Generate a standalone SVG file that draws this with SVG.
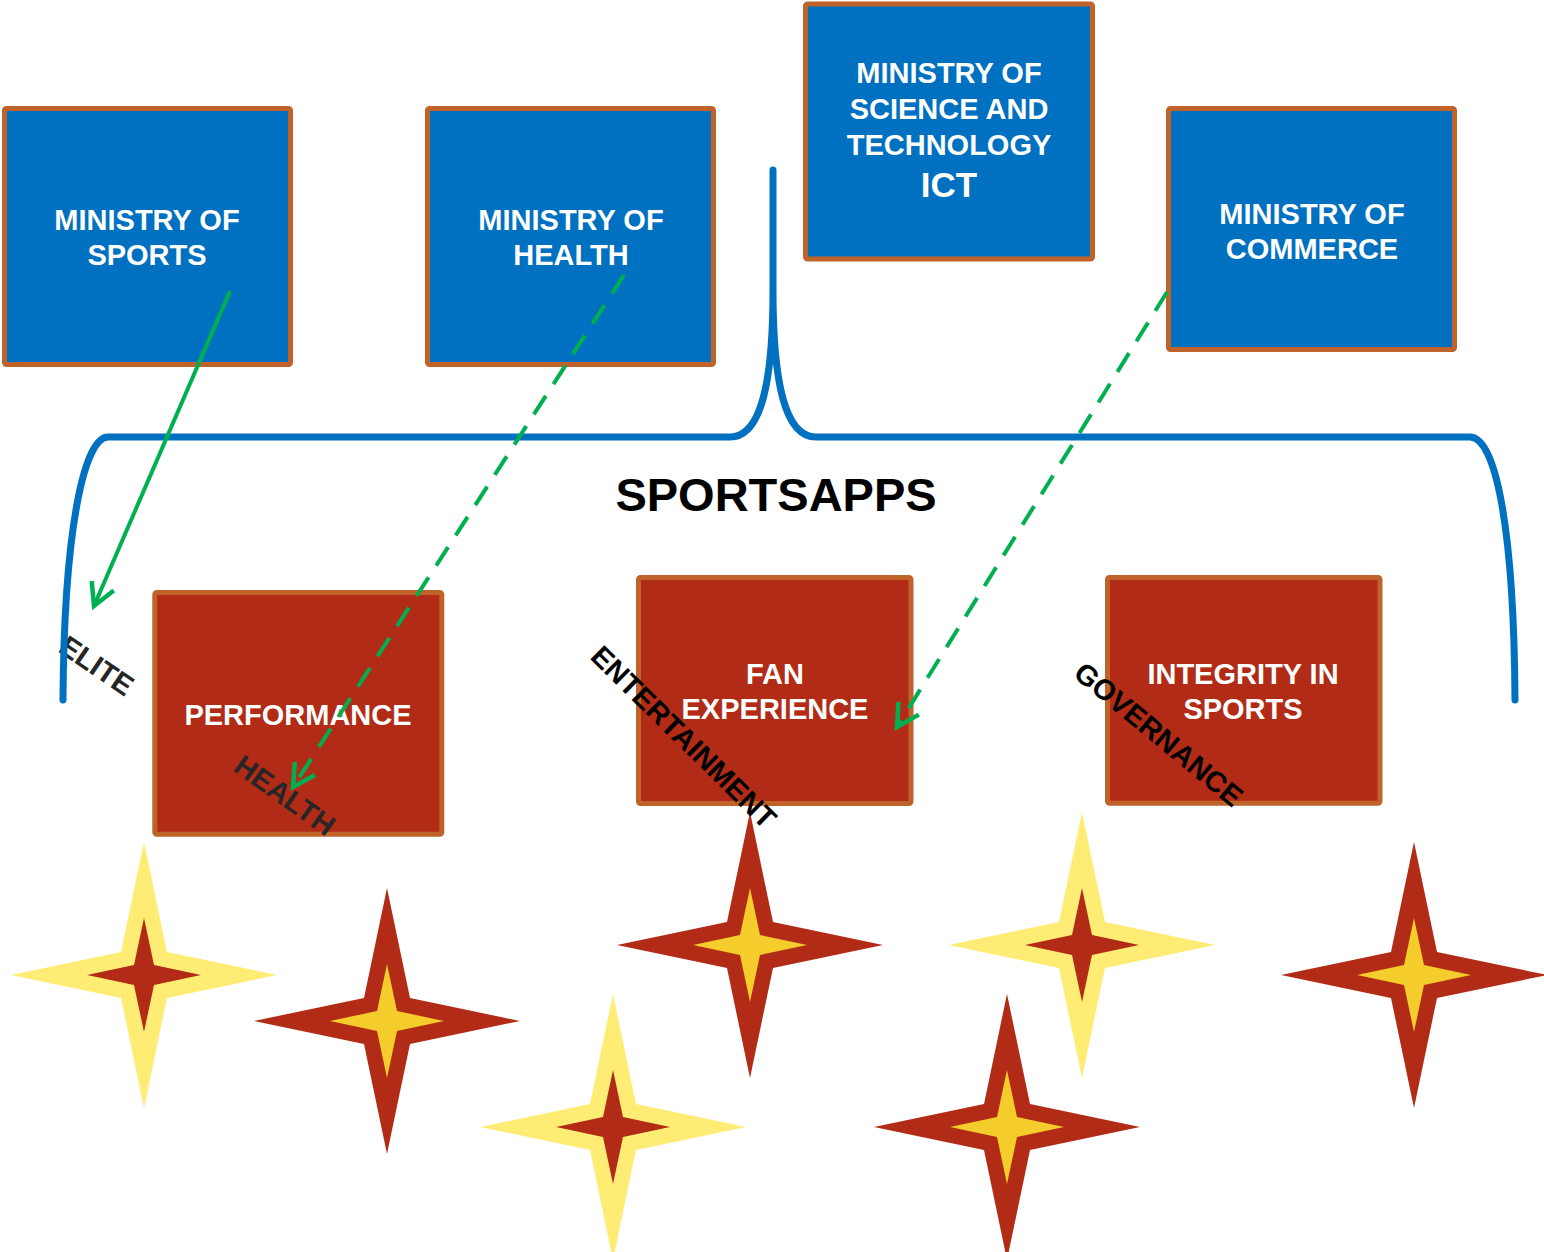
<svg xmlns="http://www.w3.org/2000/svg" width="1544" height="1252" viewBox="0 0 1544 1252">
<style>
.bluebox{fill:#0070C0;stroke:#C0632A;stroke-width:5}
.redbox{fill:#B12B16;stroke:#C0632A;stroke-width:5}
.bt{font-family:"Liberation Sans",Arial,sans-serif;font-weight:bold;font-size:29px;fill:#FFFFFF;text-anchor:middle}
.lbl{font-family:"Liberation Sans",Arial,sans-serif;font-weight:bold;font-size:29px}
.title{font-family:"Liberation Sans",Arial,sans-serif;font-weight:bold;font-size:47px;fill:#000;text-anchor:middle}
.brace{fill:none;stroke:#0070C0;stroke-width:7;stroke-linecap:round}
.conn{fill:none;stroke:#00B050;stroke-width:4}
.dash{stroke-dasharray:22 14}
</style>
<defs>
<marker id="vhead" markerUnits="userSpaceOnUse" markerWidth="40" markerHeight="40" refX="0" refY="0" viewBox="-30 -20 40 40" orient="auto" overflow="visible">
<path d="M-22,-12 L0,0 L-22,12" fill="none" stroke="#00B050" stroke-width="4.5" stroke-linejoin="miter"/>
</marker>
<polygon id="outer" points="0,-133 23,-23 133,0 23,23 0,133 -23,23 -133,0 -23,-23"/>
<polygon id="inner" points="0,-57 10,-10 57,0 10,10 0,57 -10,10 -57,0 -10,-10"/>
<g id="starY"><use href="#outer" fill="#FFEC75"/><use href="#inner" fill="#B12B16"/></g>
<g id="starR"><use href="#outer" fill="#B12B16"/><use href="#inner" fill="#F4CC2C"/></g>
</defs>
<rect width="1544" height="1252" fill="#FFFFFF"/>

<g id="ministry-sports">
<rect class="bluebox" x="4.5" y="108.5" width="286" height="256" rx="2"/>
<text class="bt" x="147" y="230">MINISTRY OF</text>
<text class="bt" x="147" y="265">SPORTS</text>
</g>
<g id="ministry-health">
<rect class="bluebox" x="427.5" y="108.5" width="286" height="256" rx="2"/>
<text class="bt" x="571" y="230">MINISTRY OF</text>
<text class="bt" x="571" y="265">HEALTH</text>
</g>
<g id="ministry-science">
<rect class="bluebox" x="805.5" y="4" width="287" height="255" rx="2"/>
<text class="bt" x="949" y="83">MINISTRY OF</text>
<text class="bt" x="949" y="119">SCIENCE AND</text>
<text class="bt" x="949" y="155">TECHNOLOGY</text>
<text class="bt" x="949" y="197" style="font-size:35px">ICT</text>
</g>
<g id="ministry-commerce">
<rect class="bluebox" x="1168.5" y="108.5" width="286" height="241" rx="2"/>
<text class="bt" x="1312" y="224">MINISTRY OF</text>
<text class="bt" x="1312" y="259">COMMERCE</text>
</g>

<g id="performance">
<rect class="redbox" x="154.8" y="592.5" width="287" height="241.7" rx="2"/>
<text class="bt" x="298" y="725">PERFORMANCE</text>
</g>
<g id="fan-experience">
<rect class="redbox" x="638.5" y="577.5" width="272.5" height="226" rx="2"/>
<text class="bt" x="775" y="684">FAN</text>
<text class="bt" x="775" y="719">EXPERIENCE</text>
</g>
<g id="integrity">
<rect class="redbox" x="1107.5" y="577.5" width="272.5" height="225.7" rx="2"/>
<text class="bt" x="1243" y="684">INTEGRITY IN</text>
<text class="bt" x="1243" y="719">SPORTS</text>
</g>

<g id="stars">
<use href="#starY" x="144" y="975"/>
<use href="#starR" x="387" y="1021"/>
<use href="#starY" x="613" y="1127"/>
<use href="#starR" x="750" y="945"/>
<use href="#starR" x="1007" y="1127"/>
<use href="#starY" x="1082" y="945"/>
<use href="#starR" x="1414" y="975"/>
</g>

<g id="labels">
<text class="lbl" fill="#262626" transform="translate(57,651) rotate(34)">ELITE</text>
<text class="lbl" fill="#262626" transform="translate(232,770) rotate(35.5)">HEALTH</text>
<text class="lbl" fill="#000000" transform="translate(589,658) rotate(44.5)">ENTERTAINMENT</text>
<text class="lbl" fill="#000000" transform="translate(1072,676) rotate(39.5)">GOVERNANCE</text>
<text class="title" x="776" y="511">SPORTSAPPS</text>
</g>

<g id="brace">
<path class="brace" d="M63,700 C64,530 84,437 108,437 L730,437 C762,437 773,380 773,290 L773,170 M773,290 C773,380 784,437 816,437 L1470,437 C1496,437 1514,530 1515,700"/>
</g>

<g id="connectors">
<path class="conn" d="M230,291 L94,606" marker-end="url(#vhead)"/>
<path class="conn dash" d="M624,275 L293,787" marker-end="url(#vhead)"/>
<path class="conn dash" d="M1167,292 L897,727" marker-end="url(#vhead)"/>
</g>
</svg>
